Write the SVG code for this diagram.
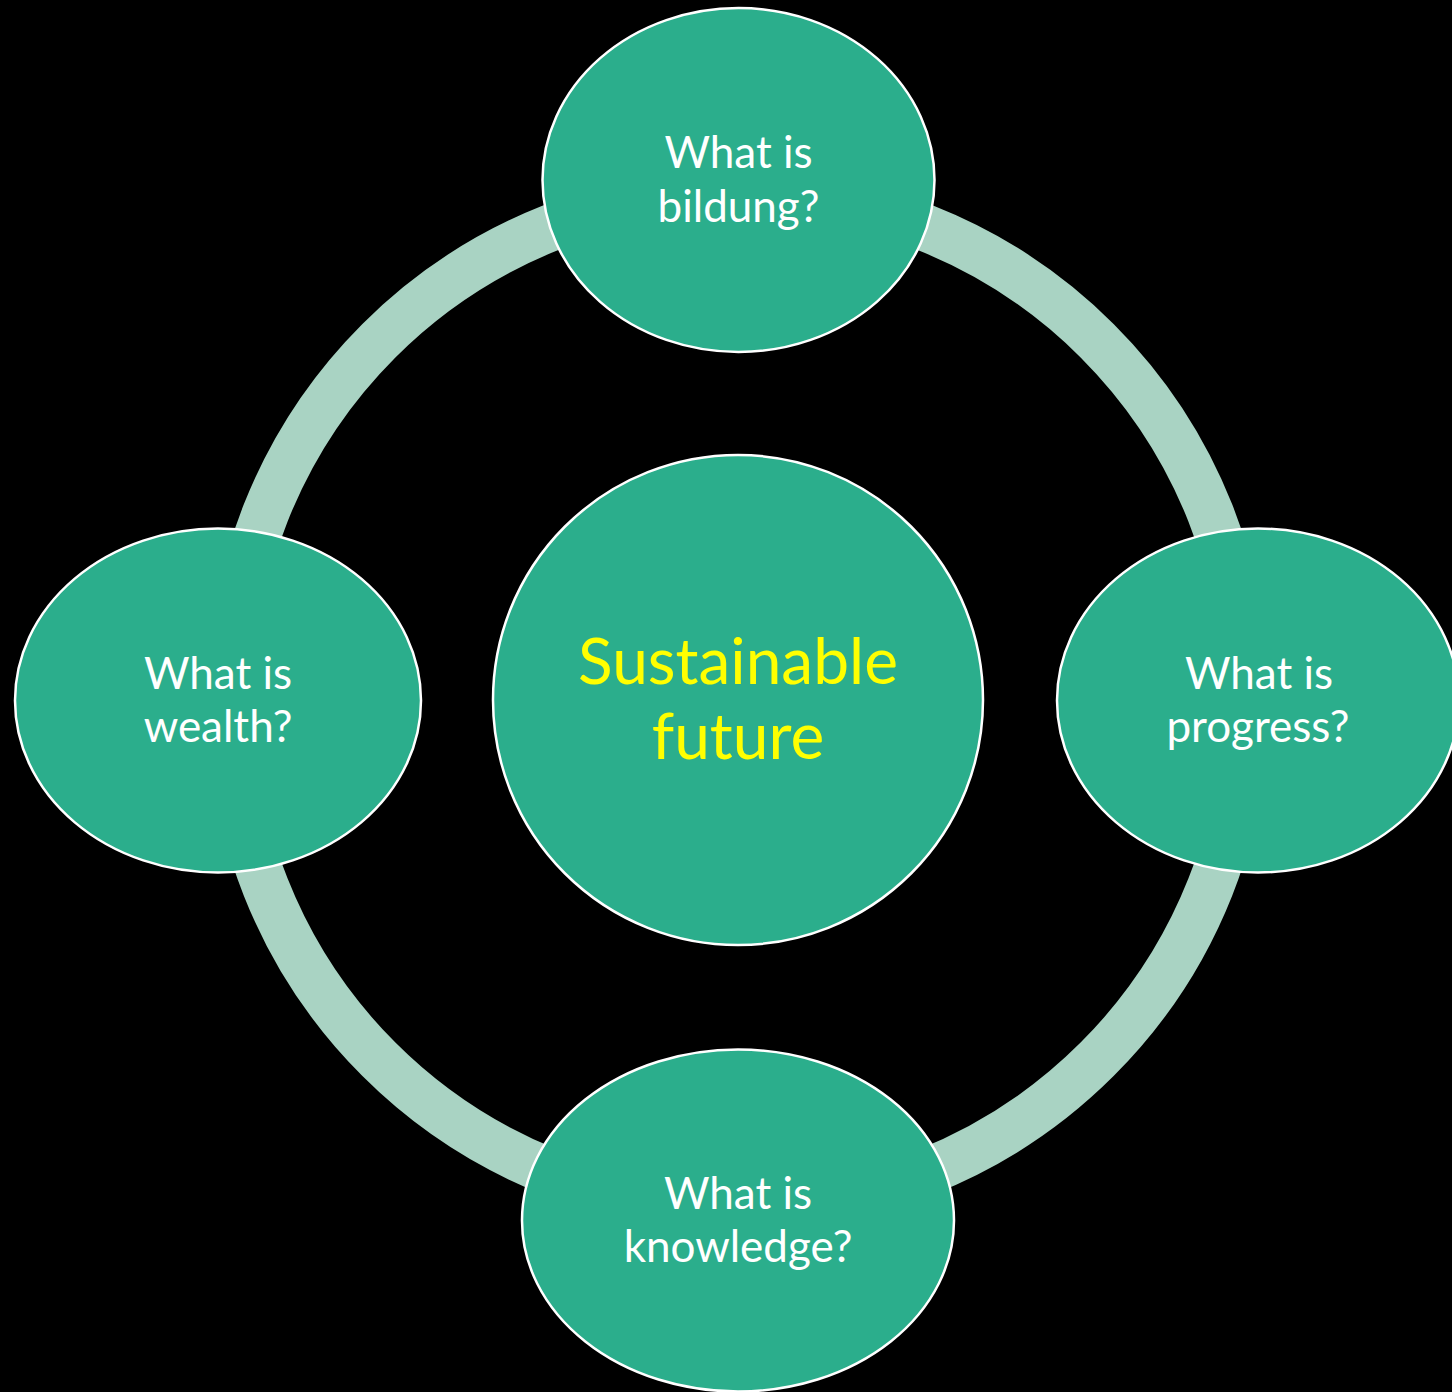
<svg xmlns="http://www.w3.org/2000/svg" width="1452" height="1392" viewBox="0 0 1452 1392">
  <style>
    .node { fill: #2BAE8C; stroke: #FFFFFF; stroke-width: 2.5; }
    .lbl { font-family: Lato, "Noto Sans", "Liberation Sans", sans-serif; font-size: 44px; fill: #FFFFFF; text-anchor: middle; }
    .center { font-family: Lato, "Noto Sans", "Liberation Sans", sans-serif; font-size: 64px; fill: #FFFF00; text-anchor: middle; }
    .ring { fill: none; stroke: #A9D3C3; stroke-width: 47; }
  </style>
  <rect x="0" y="0" width="1452" height="1392" fill="#000000"/>
  <g id="connectors">
    <circle class="ring" cx="738" cy="700" r="508"/>
  </g>
  <g id="node-center">
    <circle class="node" cx="738" cy="700" r="245"/>
    <text class="center" x="738" y="684">Sustainable</text>
    <text class="center" x="738" y="759">future</text>
  </g>
  <g id="node-top">
    <ellipse class="node" cx="738.5" cy="180" rx="196" ry="172"/>
    <text class="lbl" x="738.5" y="168">What is</text>
    <text class="lbl" x="738.5" y="222">bildung?</text>
  </g>
  <g id="node-left">
    <ellipse class="node" cx="218" cy="700.5" rx="203" ry="172"/>
    <text class="lbl" x="218" y="689">What is</text>
    <text class="lbl" x="218" y="742">wealth?</text>
  </g>
  <g id="node-right">
    <ellipse class="node" cx="1258" cy="700.5" rx="201" ry="172"/>
    <text class="lbl" x="1259" y="689">What is</text>
    <text class="lbl" x="1258" y="742">progress?</text>
  </g>
  <g id="node-bottom">
    <ellipse class="node" cx="738" cy="1220.5" rx="216" ry="171"/>
    <text class="lbl" x="738" y="1209">What is</text>
    <text class="lbl" x="738" y="1262">knowledge?</text>
  </g>
</svg>
